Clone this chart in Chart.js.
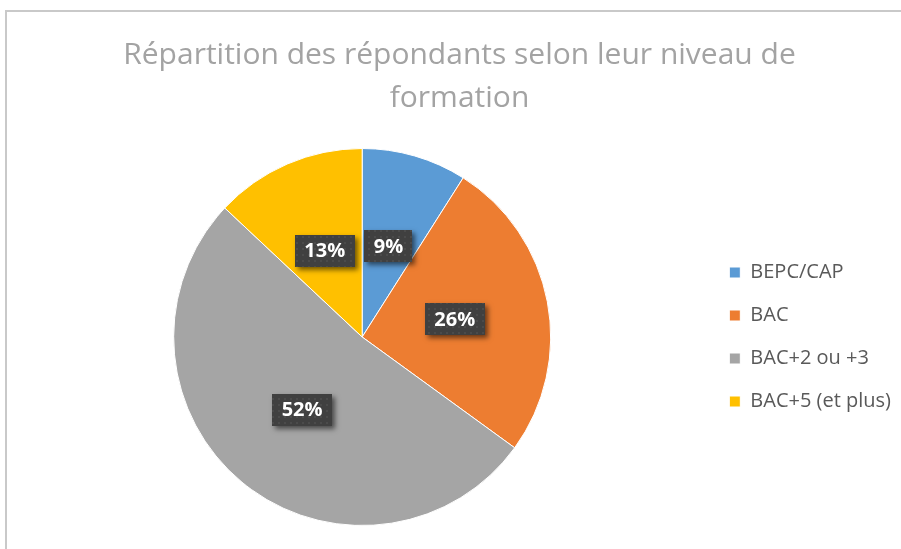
<!DOCTYPE html>
<html>
<head>
<meta charset="utf-8">
<script src="https://cdn.jsdelivr.net/npm/chart.js@4.4.1/dist/chart.umd.min.js"></script>
<style>
  html, body { margin: 0; padding: 0; background: #fff; }
  #wrap { position: relative; width: 901px; height: 549px; overflow: hidden; }
  #frame { position: absolute; left: 5px; top: 10px; right: -10px; bottom: -10px;
           border-top: 2px solid #c9c9c9; border-left: 2px solid #c9c9c9; }
  canvas { position: absolute; left: 0; top: 0; }
</style>
</head>
<body>
<div id="wrap">
  <div id="frame"></div>
  <canvas id="pie" width="901" height="549"></canvas>
</div>
<script>
const titleLines = ['Répartition des répondants selon leur niveau de', 'formation'];
const categories = ['BEPC/CAP', 'BAC', 'BAC+2 ou +3', 'BAC+5 (et plus)'];
const percents = [9, 26, 52, 13];
const colors = ['#5b9bd5', '#ed7d31', '#a5a5a5', '#ffc000'];

// small dotted tile, like the Excel label fill
function dotTile(){
  const c = document.createElement('canvas');
  c.width = 6; c.height = 6;
  const g = c.getContext('2d');
  g.fillStyle = '#404040'; g.fillRect(0, 0, 6, 6);
  g.fillStyle = '#4b4b4b'; g.fillRect(2, 2, 2, 2);
  return c;
}

// dark boxed percentage labels at the middle of each slice
const boxLabels = {
  id: 'boxLabels',
  afterDatasetsDraw(chart){
    const ctx = chart.ctx;
    const meta = chart.getDatasetMeta(0);
    const pattern = ctx.createPattern(dotTile(), 'repeat');
    ctx.save();
    ctx.font = 'bold 20px "Open Sans"';
    ctx.textAlign = 'center';
    ctx.textBaseline = 'middle';
    meta.data.forEach((arc, i) => {
      const p = arc.tooltipPosition();
      const txt = percents[i] + '%';
      const w = Math.round(ctx.measureText(txt).width + 19), h = 32;
      const x = Math.round(p.x - w / 2), y = Math.round(p.y - h / 2);
      ctx.save();
      ctx.shadowColor = 'rgba(0,0,0,0.55)';
      ctx.shadowBlur = 5;
      ctx.shadowOffsetX = 3;
      ctx.shadowOffsetY = 3;
      ctx.fillStyle = '#404040';
      ctx.fillRect(x, y, w, h);
      ctx.restore();
      ctx.fillStyle = pattern;
      ctx.fillRect(x, y, w, h);
      ctx.fillStyle = '#ffffff';
      ctx.fillText(txt, p.x, p.y + 1);
    });
    ctx.restore();
  }
};

const ctx = document.getElementById('pie').getContext('2d');
new Chart(ctx, {
  type: 'pie',
  data: {
    labels: categories,
    datasets: [{
      data: percents,
      backgroundColor: colors,
      borderColor: '#ffffff',
      borderWidth: 1
    }]
  },
  options: {
    responsive: false,
    animation: false,
    layout: { padding: { top: 0, bottom: 23, left: 18, right: 0 } },
    plugins: {
      title: {
        display: true,
        text: titleLines,
        color: '#a3a3a3',
        font: { family: '"Open Sans"', size: 30, weight: 'normal', lineHeight: '43px' },
        padding: { top: 34, bottom: 28 }
      },
      legend: {
        position: 'right',
        fullSize: false,
        align: 'center',
        labels: {
          boxWidth: 11,
          boxHeight: 11,
          padding: 23,
          color: '#595959',
          font: { family: '"Open Sans"', size: 20 }
        }
      },
      tooltip: { enabled: false }
    }
  },
  plugins: [boxLabels]
});
</script>
</body>
</html>
